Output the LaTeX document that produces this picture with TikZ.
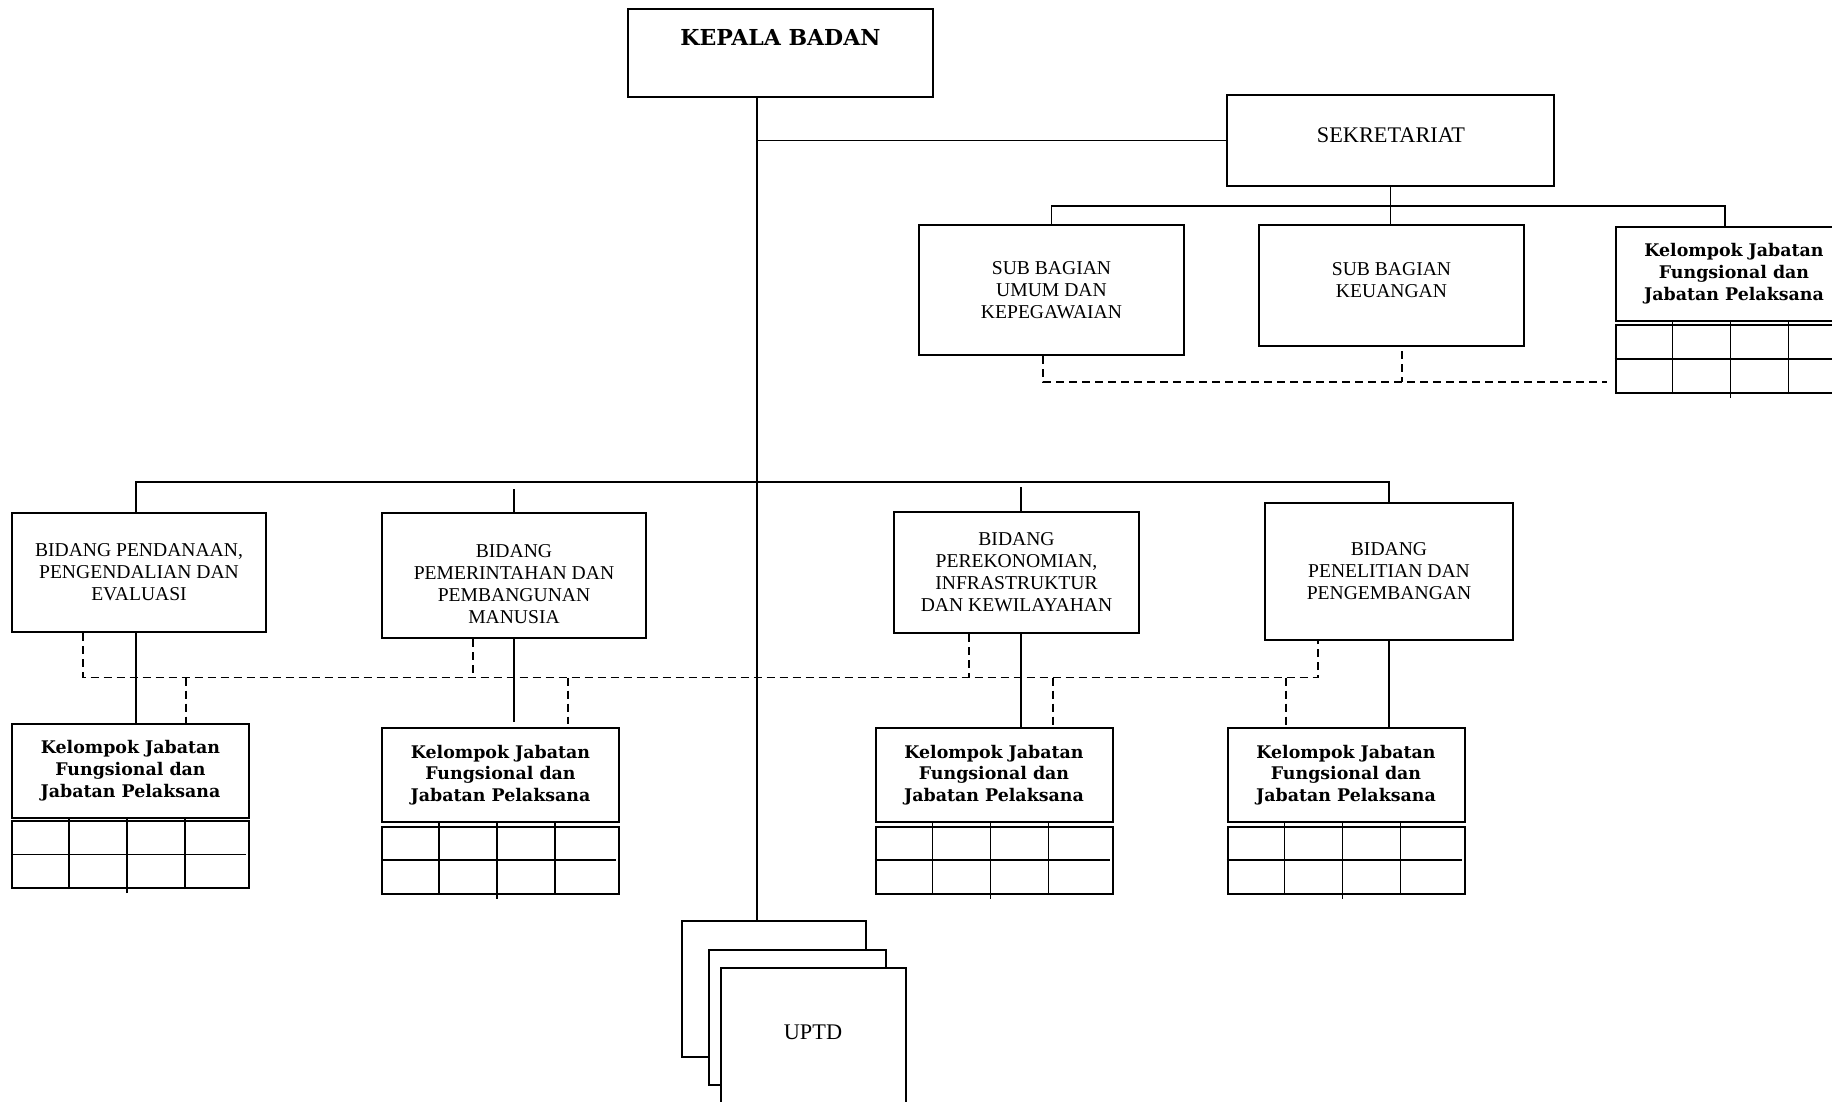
\documentclass[tikz,border=0pt]{standalone}
\usepackage{fontspec}
\setmainfont{Liberation Serif}
\newfontfamily\kjfserif{DejaVu Serif}
\usetikzlibrary{positioning}
\newcommand{\orgfont}{\fontsize{19.6}{22}\selectfont}
\newcommand{\bigorgfont}{\fontsize{22.3}{25}\selectfont}
\newcommand{\kjffont}{\kjfserif\bfseries\fontsize{17.4}{21.7}\selectfont}
\newcommand{\headfont}{\kjfserif\bfseries\fontsize{22}{26}\selectfont}
\tikzset{
  orgbox/.style={draw=black,line width=2pt,fill=white,inner sep=0pt,
    align=center,font=\orgfont},
  boxsize/.style 2 args={minimum width=#1pt,minimum height=#2pt},
  orgtext/.style={inner sep=0pt,align=center,font=\orgfont},
  kjf/.style={orgbox,minimum width=237pt,minimum height=94pt,font=\kjffont},
  kjfgrid/.style={orgbox,minimum width=237pt,minimum height=67pt},
  link/.style={line width=1.6pt},
  dashlink/.style={line width=1.6pt,dash pattern=on 8pt off 5pt},
  gridline/.style={line width=1.8pt}
}

\begin{document}
\begin{tikzpicture}[x=1pt,y=-1pt]
  \useasboundingbox (0,0) rectangle (1832,1101);
  \coordinate (spine) at (757,0);
  \coordinate (rowtop) at (0,482);
  \coordinate (dashrow) at (0,677.5);
  \coordinate (subdash-end) at (1607,382);
  \coordinate (kjf0-in) at (1725,206);

  % pimpinan dan sekretariat
  \node[orgbox,boxsize={305}{88}] (kepala) at (780.5,53) {};
  \node[orgtext,font=\headfont] (kepala-t) at (780.5,37.5) {KEPALA BADAN};
  \node[orgbox,boxsize={327}{91}] (sek) at (1390.5,140.5) {};
  \node[orgtext,font=\bigorgfont] (sek-t) at (1391,135.5) {SEKRETARIAT};
  \node[orgbox,boxsize={265}{130}] (umum) at (1051.5,290) {SUB BAGIAN\\UMUM DAN\\KEPEGAWAIAN};
  \node[orgbox,boxsize={265}{121}] (keu) at (1391.5,285.5) {};
  \node[orgtext] (keu-t) at (1391.5,280) {SUB BAGIAN\\KEUANGAN};
  \node[kjf] (kjf0) at (1734,273.5) {Kelompok Jabatan\\Fungsional dan\\Jabatan Pelaksana};
  \node[kjfgrid,minimum height=68pt] (grid0) at (1734,359) {};

  % bidang
  \node[orgbox,boxsize={254}{119}] (b1) at (139,572.5) {BIDANG PENDANAAN,\\PENGENDALIAN DAN\\EVALUASI};
  \node[orgbox,boxsize={264}{125}] (b2) at (514,575.5) {};
  \node[orgtext] (b2-t) at (514,584) {BIDANG\\PEMERINTAHAN DAN\\PEMBANGUNAN\\MANUSIA};
  \node[orgbox,boxsize={245}{121}] (b3) at (1016.5,572.5) {BIDANG\\PEREKONOMIAN,\\INFRASTRUKTUR\\DAN KEWILAYAHAN};
  \node[orgbox,boxsize={248}{137}] (b4) at (1389,571.5) {BIDANG\\PENELITIAN DAN\\PENGEMBANGAN};

  % kelompok jabatan fungsional
  \node[kjf] (kjf1) at (130.5,770.5) {Kelompok Jabatan\\Fungsional dan\\Jabatan Pelaksana};
  \node[kjfgrid] (grid1) at (130.5,854.5) {};
  \node[kjf] (kjf2) at (500.5,775) {Kelompok Jabatan\\Fungsional dan\\Jabatan Pelaksana};
  \node[kjfgrid] (grid2) at (500.5,860) {};
  \node[kjf] (kjf3) at (994,775) {Kelompok Jabatan\\Fungsional dan\\Jabatan Pelaksana};
  \node[kjfgrid] (grid3) at (994,860) {};
  \node[kjf] (kjf4) at (1346,775) {Kelompok Jabatan\\Fungsional dan\\Jabatan Pelaksana};
  \node[kjfgrid] (grid4) at (1346,860) {};

  % uptd
  \node[orgbox,boxsize={184}{136}] (uptd1) at (774,989) {};
  \node[orgbox,boxsize={177}{135}] (uptd2) at (797.5,1017.5) {};
  \node[orgbox,boxsize={185}{150}] (uptd3) at (813.5,1043) {};
  \node[orgtext,font=\bigorgfont] (uptd-t) at (813,1032) {UPTD};

  % garis komando
  \draw[link] (spine |- kepala.south) -- (spine |- uptd1.north);
  \draw[link] (spine |- sek.west) -- (sek.west);
  \draw[link] (sek.south) -- (sek.south |- keu.north);
  \draw[link] (umum.north) |- (kjf0-in) -- (kjf0-in |- kjf0.north);
  \draw[link] ([xshift=-3pt]b1.north) |- (rowtop -| b4.north) -- (b4.north);
  \draw[link] ([yshift=-7pt]rowtop -| b2.north) -- (b2.north);
  \draw[link] ([xshift=4.5pt,yshift=-5pt]rowtop -| b3.north) -- ([xshift=4.5pt]b3.north);
  \draw[link] ([xshift=-3pt]b1.south) -- ([xshift=-3pt]b1.south |- kjf1.north);
  \draw[link] (b2.south) -- ([yshift=5pt]b2.south |- kjf2.north);
  \draw[link] ([xshift=4.5pt]b3.south) -- ([xshift=4.5pt]b3.south |- kjf3.north);
  \draw[link] (b4.south) -- (b4.south |- kjf4.north);

  % garis koordinasi
  \draw[dashlink] ([xshift=-8.5pt]umum.south) |- (subdash-end);
  \draw[dashlink] ([xshift=10.5pt,yshift=-4pt]keu.south) -- ([xshift=10.5pt]keu.south |- subdash-end);
  \draw[dashlink] ([xshift=-56pt]b1.south) |- ([xshift=-71pt]b4.south |- dashrow) -- ([xshift=-71pt]b4.south);
  \draw[dashlink] ([xshift=-41pt]b2.south) -- ([xshift=-41pt]b2.south |- dashrow);
  \draw[dashlink] ([xshift=-47.5pt]b3.south) -- ([xshift=-47.5pt]b3.south |- dashrow);
  \draw[dashlink] ([xshift=55.5pt]kjf1.north |- dashrow) -- ([xshift=55.5pt]kjf1.north);
  \draw[dashlink] ([xshift=67.5pt]kjf2.north |- dashrow) -- ([xshift=67.5pt,yshift=3pt]kjf2.north);
  \draw[dashlink] ([xshift=59pt]kjf3.north |- dashrow) -- ([xshift=59pt]kjf3.north);
  \draw[dashlink] ([xshift=-60pt]kjf4.north |- dashrow) -- ([xshift=-60pt]kjf4.north);

  % kotak jabatan
  \draw[gridline] (grid0.west) -- (grid0.east)
    ([xshift=58pt]grid0.south west) -- ([xshift=58pt]kjf0.south west)
    ([xshift=116pt,yshift=-4pt]grid0.south west) -- ([xshift=116pt]kjf0.south west)
    ([xshift=174pt]grid0.south west) -- ([xshift=174pt]kjf0.south west);
  \draw[gridline] (grid1.west) -- ([xshift=-4pt]grid1.east)
    ([xshift=58pt]grid1.south west) -- ([xshift=58pt]kjf1.south west)
    ([xshift=116pt,yshift=-4pt]grid1.south west) -- ([xshift=116pt]kjf1.south west)
    ([xshift=174pt]grid1.south west) -- ([xshift=174pt]kjf1.south west);
  \draw[gridline] (grid2.west) -- ([xshift=-4pt]grid2.east)
    ([xshift=58pt]grid2.south west) -- ([xshift=58pt]kjf2.south west)
    ([xshift=116pt,yshift=-4pt]grid2.south west) -- ([xshift=116pt]kjf2.south west)
    ([xshift=174pt]grid2.south west) -- ([xshift=174pt]kjf2.south west);
  \draw[gridline] (grid3.west) -- ([xshift=-4pt]grid3.east)
    ([xshift=58pt]grid3.south west) -- ([xshift=58pt]kjf3.south west)
    ([xshift=116pt,yshift=-4pt]grid3.south west) -- ([xshift=116pt]kjf3.south west)
    ([xshift=174pt]grid3.south west) -- ([xshift=174pt]kjf3.south west);
  \draw[gridline] (grid4.west) -- ([xshift=-4pt]grid4.east)
    ([xshift=58pt]grid4.south west) -- ([xshift=58pt]kjf4.south west)
    ([xshift=116pt,yshift=-4pt]grid4.south west) -- ([xshift=116pt]kjf4.south west)
    ([xshift=174pt]grid4.south west) -- ([xshift=174pt]kjf4.south west);
\end{tikzpicture}
\end{document}
